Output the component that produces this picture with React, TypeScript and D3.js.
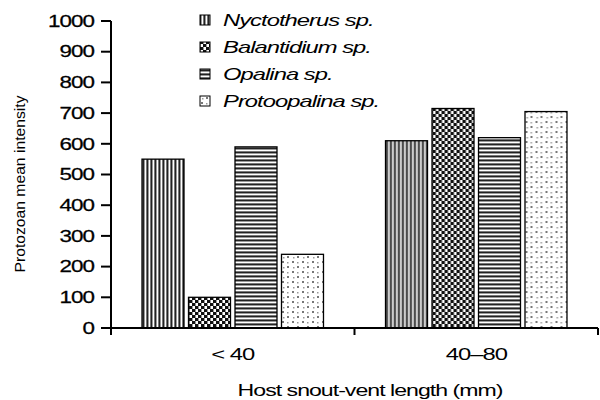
import React from 'react';
import * as d3 from 'd3';

const groups = ['< 40', '40\u201380'];
const series = ['Nyctotherus sp.', 'Balantidium sp.', 'Opalina sp.', 'Protoopalina sp.'];
const patternIds = ['vstripe', 'checker', 'hstripe', 'dots'];
const valuesSmall = [550, 100, 590, 240];
const valuesLarge = [610, 715, 620, 705];
const yTicks = [0, 100, 200, 300, 400, 500, 600, 700, 800, 900, 1000];

const values = [valuesSmall, valuesLarge];

const margin = { left: 111, right: 2, top: 21, bottom: 72 };
const width = 600;
const height = 400;
// the original text is stretched sideways, with tight spacing
const stretch = 1.4;

const Wide = ({ x, y, children, ...rest }: any) => (
  <g transform={`translate(${x},${y}) scale(${stretch},1)`}>
    <text dy="0.36em" letterSpacing={-0.7} {...rest}>
      {children}
    </text>
  </g>
);

const App = () => {
  const x = d3
    .scaleBand()
    .domain(groups)
    .range([margin.left, width - margin.right])
    .padding(0);
  const inner = d3
    .scaleBand()
    .domain(series)
    .range([0, x.bandwidth()])
    .paddingInner(0.097)
    .paddingOuter(0.667);
  const y = d3
    .scaleLinear()
    .domain([0, 1000])
    .range([height - margin.bottom, margin.top]);
  const font = '"Liberation Sans", Arial, sans-serif';

  return (
    <svg
      width={width}
      height={height}
      style={{ position: 'absolute', left: 0, top: 0, background: '#fff' }}
      fontFamily={font}
    >
      <defs>
        <pattern id="vstripe" width="4" height="4" patternUnits="userSpaceOnUse">
          <rect width="4" height="4" fill="#fff" />
          <rect x="0" width="1" height="4" fill="#222" />
          <rect x="1" width="1" height="4" fill="#999" />
          <rect x="3" width="1" height="4" fill="#777" />
        </pattern>
        <pattern id="hstripe" width="4" height="4" patternUnits="userSpaceOnUse">
          <rect width="4" height="4" fill="#fff" />
          <rect y="0" width="4" height="1" fill="#222" />
          <rect y="1" width="4" height="1" fill="#999" />
          <rect y="3" width="4" height="1" fill="#777" />
        </pattern>
        <pattern id="checker" width="6" height="6" patternUnits="userSpaceOnUse">
          <rect width="6" height="6" fill="#fff" />
          <rect x="0" y="0" width="3" height="3" fill="#111" />
          <rect x="3" y="3" width="3" height="3" fill="#111" />
          <rect x="3" y="0" width="1" height="3" fill="#999" />
          <rect x="0" y="3" width="1" height="3" fill="#999" />
        </pattern>
        <pattern id="dots" width="10" height="10" patternUnits="userSpaceOnUse">
          <rect width="10" height="10" fill="#fff" />
          <rect x="1" y="1" width="2" height="2" fill="#777" />
          <rect x="6" y="6" width="2" height="2" fill="#777" />
          <rect x="6" y="2" width="1.5" height="1.5" fill="#999" />
          <rect x="2" y="7" width="1.5" height="1.5" fill="#999" />
        </pattern>
      </defs>

      {groups.map((g, gi) => (
        <g key={g} transform={`translate(${x(g)},0)`}>
          {series.map((s, si) => (
            <rect
              key={s}
              x={inner(s)}
              y={y(values[gi][si])}
              width={inner.bandwidth()}
              height={y(0) - y(values[gi][si])}
              fill={`url(#${patternIds[si]})`}
              stroke="#000"
              strokeWidth={1.3}
            />
          ))}
        </g>
      ))}

      {/* y axis */}
      <line x1={margin.left} x2={margin.left} y1={y(1000)} y2={y(0)} stroke="#000" strokeWidth={2} />
      {yTicks.map(t => (
        <g key={t}>
          <line x1={margin.left - 10} x2={margin.left} y1={y(t)} y2={y(t)} stroke="#000" strokeWidth={2} />
          <Wide x={margin.left - 17} y={y(t)} textAnchor="end" fontSize={16} stroke="#000" strokeWidth={0.25}>
            {t}
          </Wide>
        </g>
      ))}

      {/* x axis */}
      <line x1={margin.left} x2={width - margin.right} y1={y(0)} y2={y(0)} stroke="#000" strokeWidth={2} />
      {[...groups.map(g => x(g)), width - margin.right].map((t, i) => (
        <line key={i} x1={t} x2={t} y1={y(0)} y2={y(0) + 7} stroke="#000" strokeWidth={2} />
      ))}
      {groups.map(g => (
        <Wide key={g} x={x(g) + x.bandwidth() / 2} y={354} textAnchor="middle" fontSize={17}>
          {g}
        </Wide>
      ))}

      <Wide x={370} y={390} textAnchor="middle" fontSize={16.5}>
        Host snout-vent length (mm)
      </Wide>
      <text
        transform={`translate(20,${184}) rotate(-90)`}
        dy="0.36em"
        textAnchor="middle"
        fontSize={15}
        textLength={177}
        lengthAdjust="spacingAndGlyphs"
      >
        Protozoan mean intensity
      </text>

      {/* legend */}
      {series.map((s, i) => (
        <g key={s} transform={`translate(200,${20 + i * 27})`}>
          <rect x={0} y={-5} width={10} height={10} fill={`url(#${patternIds[i]})`} stroke="#000" strokeWidth={1} />
          <Wide x={23} y={0} fontSize={17} fontStyle="italic">
            {s}
          </Wide>
        </g>
      ))}
    </svg>
  );
};

export default App;
